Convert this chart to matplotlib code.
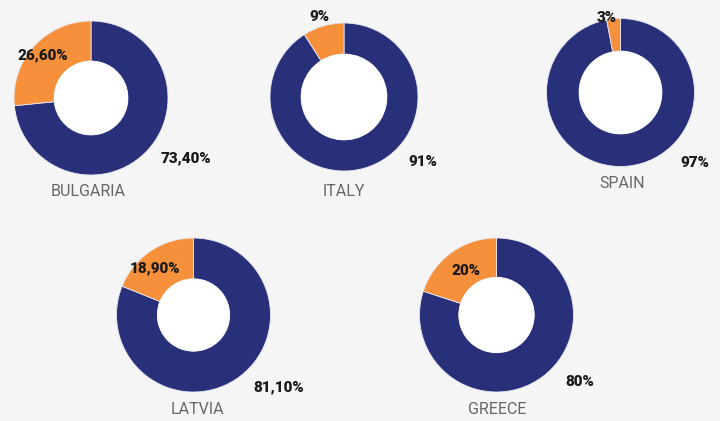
import matplotlib
matplotlib.use('Agg')
import matplotlib.pyplot as plt
from matplotlib.patches import Circle

# data
countries = ['BULGARIA', 'ITALY', 'SPAIN', 'LATVIA', 'GREECE']
navy_vals = [73.4, 91, 97, 81.1, 80]
orange_vals = [26.6, 9, 3, 18.9, 20]
navy_labels = ['73,40%', '91%', '97%', '81,10%', '80%']
orange_labels = ['26,60%', '9%', '3%', '18,90%', '20%']

# layout in pixels (y down): center, outer radius, hole ratio
centers = [(91, 98), (344, 97), (620.5, 92.5), (193.5, 315), (496.5, 315)]
radii = [77, 74, 74, 77, 77]
holes = [0.48, 0.58, 0.56, 0.47, 0.49]
orange_pos = [(43, 55), (319, 17), (607, 18), (155, 268), (466, 271)]
navy_pos = [(186, 158), (423, 162), (695, 163), (279, 387), (580, 382)]
name_pos = [(88, 192), (344, 192), (622, 183), (197, 410), (497, 410)]

NAVY = '#28307a'
ORANGE = '#f6903a'
BG = '#f5f5f5'
H = 421

fig = plt.figure(figsize=(7.2, 4.21), dpi=100)
fig.patch.set_facecolor(BG)
ax = fig.add_axes([0, 0, 1, 1])
ax.set_facecolor(BG)

bold = dict(ha='center', va='center', fontsize=11, fontweight='black',
            color='#1a1a1a', family=['Roboto', 'DejaVu Sans'], zorder=5)

for i in range(len(countries)):
    cx, cy = centers[i]
    r = radii[i]
    ax.pie([navy_vals[i], orange_vals[i]], colors=[NAVY, ORANGE],
           startangle=90, counterclock=False, center=(cx, H - cy), radius=r,
           frame=True,
           wedgeprops=dict(width=r * (1 - holes[i]), edgecolor='#e8e8f2', linewidth=0.6))
    ax.add_patch(Circle((cx, H - cy), r * holes[i], facecolor='white', edgecolor='none', zorder=3))

    ox, oy = orange_pos[i]
    ax.text(ox, H - oy, orange_labels[i], **bold)
    nx, ny = navy_pos[i]
    ax.text(nx, H - ny, navy_labels[i], **bold)
    tx, ty = name_pos[i]
    ax.text(tx, H - ty, countries[i], ha='center', va='center', fontsize=11.5,
            fontweight='normal', color='#666666', family=['Roboto', 'DejaVu Sans'], zorder=5)

ax.set_xlim(0, 720)
ax.set_ylim(0, H)
ax.set_aspect('equal', adjustable='box')
ax.axis('off')

fig.savefig('out.png', dpi=100, facecolor=BG)
